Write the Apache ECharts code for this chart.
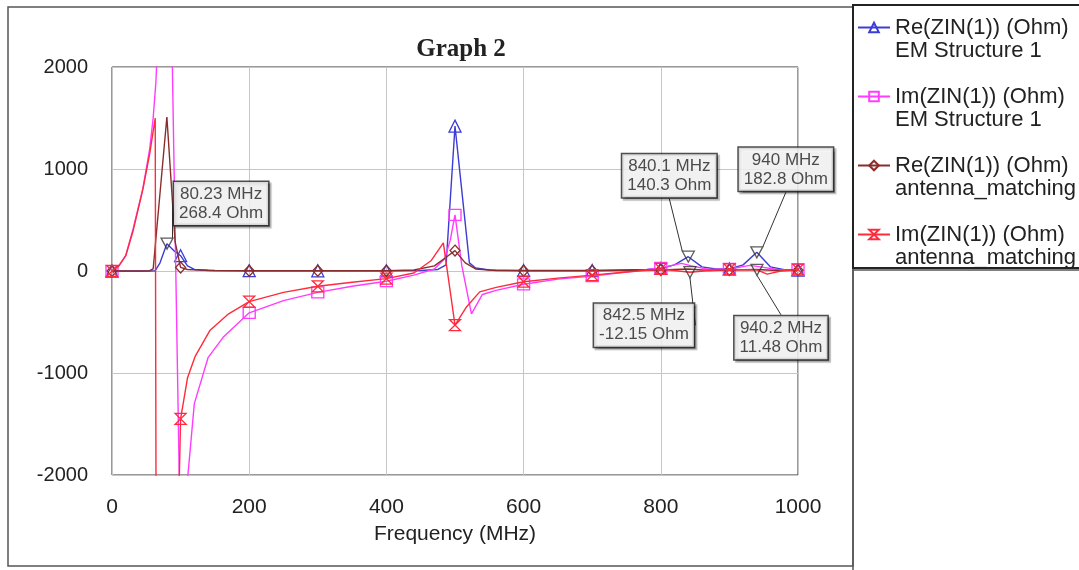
<!DOCTYPE html>
<html>
<head>
<meta charset="utf-8">
<script src="https://cdn.jsdelivr.net/npm/echarts@6/dist/echarts.min.js"></script>
<style>
html,body{margin:0;padding:0;background:#fff;}
#chart{width:1079px;height:570px;}
</style>
</head>
<body>
<div id="chart"></div>
<script>
// ---- data (frequency MHz, value Ohm) ----
const xTicks = [0, 200, 400, 600, 800, 1000];
const yTicks = [-2000, -1000, 0, 1000, 2000];

const reEM = [[0,0],[20,0],[40,0],[55,0],[63,3],[70,80],[80,268],[90,200],[100,150],[110,50],[120,15],[140,5],[200,3],[300,2],[400,2],[450,5],[475,15],[487,60],[500,1420],[521,80],[530,30],[550,10],[600,5],[700,5],[780,15],[800,25],[820,60],[840,140],[860,40],[880,20],[900,20],[920,60],[940,183],[960,40],[980,12],[1000,10]];

const imEM = [[0,0],[10,50],[20,150],[31,420],[45,810],[55,1200],[60,1500],[64,1850],[68,2500],[75,4500],[85,3200],[100,-2800],[120,-1300],[140,-850],[162,-650],[200,-410],[250,-290],[300,-210],[350,-150],[400,-100],[440,-40],[470,20],[485,120],[493,300],[500,550],[510,50],[524,-420],[540,-230],[560,-190],[600,-130],[650,-80],[700,-50],[750,-10],[800,30],[830,75],[845,50],[870,15],[900,20],[930,55],[945,40],[970,15],[1000,10]];

const reAnt = [[0,0],[40,0],[55,3],[60,20],[80,1510],[92,285],[100,35],[110,15],[150,5],[200,3],[300,3],[400,3],[440,10],[470,50],[490,150],[500,200],[515,80],[530,20],[560,5],[600,3],[700,3],[800,10],[840,20],[870,5],[900,10],[940,15],[970,5],[1000,8]];

const imAnt = [[0,0],[10,50],[20,150],[31,400],[45,800],[55,1150],[63,1500],[66,-8000],[90,-4500],[100,-1450],[110,-1050],[121,-840],[143,-580],[170,-420],[200,-300],[250,-210],[300,-150],[350,-110],[400,-75],[440,-20],[465,100],[483,275],[500,-530],[517,-350],[536,-205],[560,-160],[600,-105],[650,-70],[700,-40],[750,-10],[800,20],[842.5,-12],[870,5],[900,15],[940.2,11],[955,-30],[975,0],[1000,15]];

const markerFreq = [80.23, 840.1, 842.5, 940, 940.2];
const markerVal  = [268.4, 140.3, -12.15, 182.8, 11.48];

const seriesNames = [
  'Re(ZIN(1)) (Ohm)\nEM Structure 1',
  'Im(ZIN(1)) (Ohm)\nEM Structure 1',
  'Re(ZIN(1)) (Ohm)\nantenna_matching',
  'Im(ZIN(1)) (Ohm)\nantenna_matching'
];

// ---- presentation ----
const FONT = '"Liberation Sans", Arial, sans-serif';
const colors = ['#3c3cd6', '#ff3cff', '#8b2c2c', '#ff2a3a'];
const symbols = [
  'triangle',
  'rect',
  'diamond',
  'path://M0,0L10,0L0,10L10,10Z'
];
const symSizes = [[12,12],[12,11],[10,11],[11,11]];
const calloutOffsets = [[54,-40],[-19,-81],[-46,53],[29,-83],[24,68]];

function lineSeries(i, data) {
  return {
    name: seriesNames[i],
    type: 'line',
    data: data,
    symbol: symbols[i],
    symbolKeepAspect: true,
    symbolSize: function (v) { return (v[0] % 100 === 0) ? symSizes[i] : 0; },
    showAllSymbol: true,
    lineStyle: { color: colors[i], width: 1.4 },
    itemStyle: { color: 'rgba(255,255,255,0)', borderColor: colors[i], borderWidth: 1.3 },
    emphasis: { disabled: true },
    animation: false,
    z: 3 + i
  };
}

const chart = echarts.init(document.getElementById('chart'), null, { renderer: 'canvas' });

const option = {
  backgroundColor: '#fff',
  animation: false,
  title: {
    text: 'Graph 2',
    left: 456,
    top: 32,
    textAlign: 'center',
    textStyle: { fontFamily: '"Liberation Serif", "Times New Roman", serif', fontWeight: 'bold', fontSize: 25, color: '#222' }
  },
  legend: {
    orient: 'vertical',
    left: 857,
    top: -7,
    padding: 0,
    itemGap: 0,
    itemWidth: 32,
    itemHeight: 12,
    selectedMode: false,
    data: seriesNames,
    formatter: function (name) { return '\n' + name; },
    textStyle: { fontFamily: FONT, fontSize: 22, lineHeight: 23, color: '#222' }
  },
  grid: {
    left: 112, right: 281, top: 67, bottom: 95,
    show: true, borderColor: '#333', borderWidth: 1, backgroundColor: '#fff'
  },
  xAxis: {
    type: 'value',
    min: xTicks[0], max: xTicks[xTicks.length - 1], interval: 200,
    name: 'Frequency (MHz)',
    nameLocation: 'middle',
    nameGap: 49,
    nameTextStyle: { fontFamily: FONT, fontSize: 21, color: '#222' },
    axisLine: { show: false },
    axisTick: { show: false },
    axisLabel: { fontFamily: FONT, fontSize: 21, color: '#222', margin: 22, formatter: function (v) { return String(v); } },
    splitLine: { show: true, lineStyle: { color: '#c6c6c6', width: 1 } }
  },
  yAxis: {
    type: 'value',
    min: yTicks[0], max: yTicks[yTicks.length - 1], interval: 1000,
    axisLine: { show: false },
    axisTick: { show: false },
    axisLabel: { fontFamily: FONT, fontSize: 20, color: '#222', margin: 24, formatter: function (v) { return String(v); } },
    splitLine: { show: true, lineStyle: { color: '#c6c6c6', width: 1 } }
  },
  series: [
    lineSeries(0, reEM),
    lineSeries(1, imEM),
    lineSeries(2, reAnt),
    lineSeries(3, imAnt),
    {
      name: 'markers',
      type: 'scatter',
      data: markerFreq.map(function (f, k) { return [f, markerVal[k]]; }),
      symbol: 'path://M0,0L10,0L5,9Z',
      symbolSize: [12, 11],
      itemStyle: { color: 'rgba(255,255,255,0)', borderColor: '#333', borderWidth: 1.3 },
      z: 10,
      emphasis: { disabled: true },
      label: {
        show: true,
        position: 'inside',
        formatter: function (p) { return p.value[0] + ' MHz\n' + p.value[1] + ' Ohm'; },
        fontFamily: FONT,
        fontSize: 17,
        lineHeight: 19,
        color: '#222',
        align: 'left',
        backgroundColor: '#fff',
        borderColor: '#222',
        borderWidth: 1.5,
        padding: [3, 5, 2, 5],
        shadowColor: 'rgba(0,0,0,0.35)',
        shadowOffsetX: 2,
        shadowOffsetY: 2,
        shadowBlur: 1
      },
      labelLayout: function (params) {
        const o = calloutOffsets[params.dataIndex];
        return { dx: o[0], dy: o[1], align: 'center', verticalAlign: 'middle' };
      },
      labelLine: { show: true, lineStyle: { color: '#333', width: 1 } }
    }
  ],
  graphic: [
    { type: 'rect', shape: { x: 8, y: 7, width: 845, height: 559 }, style: { fill: 'none', stroke: '#555', lineWidth: 1.5 }, silent: true, z: -1 },
    { type: 'rect', shape: { x: 853, y: 5, width: 232, height: 263 }, style: { fill: 'none', stroke: '#222', lineWidth: 2 }, silent: true },
    { type: 'rect', shape: { x: 853, y: 270, width: 232, height: 305 }, style: { fill: 'none', stroke: '#555', lineWidth: 1.5 }, silent: true }
  ]
};

chart.setOption(option);
</script>
</body>
</html>
